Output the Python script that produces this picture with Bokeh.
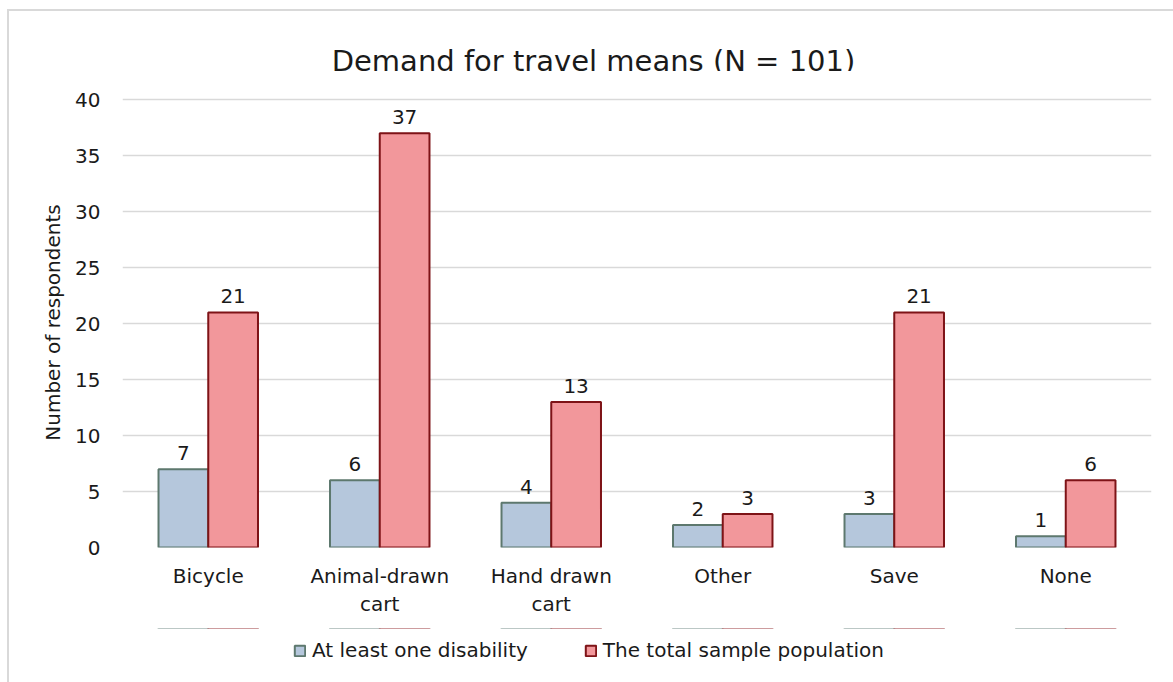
from bokeh.plotting import figure
from bokeh.layouts import column
from bokeh.models import (ColumnDataSource, Legend, LegendItem, FixedTicker, Label,
                          BoxAnnotation)
from bokeh.transform import dodge
from bokeh.core.properties import value
from bokeh.embed import file_html
from bokeh.resources import INLINE

# Survey results: demand for travel means
categories = ["Bicycle", "Animal-drawn\ncart", "Hand drawn\ncart", "Other", "Save", "None"]
disability = [7, 6, 4, 2, 3, 1]
total_sample = [21, 37, 13, 3, 21, 6]
series_names = ["At least one disability", "The total sample population"]
y_ticks = [0, 5, 10, 15, 20, 25, 30, 35, 40]
title_text = "Demand for travel means (N = 101)"

FONT = "DejaVu Sans"
TEXT = "#1a1a1a"
BAR_W = 0.29
FILL = ["#b5c7dc", "#f2979b"]
EDGE = ["#5d786e", "#7e1317"]

src = ColumnDataSource(dict(
    cat=categories,
    dis=disability,
    tot=total_sample,
    dis_lbl=[str(v) for v in disability],
    tot_lbl=[str(v) for v in total_sample],
))

# page geometry: the chart area has a light border on its top and left edges
OX, OY, BW = 7, 9, 2
W, H = 1173 - OX - BW, 682 - OY - BW
CX, CY = OX + BW, OY + BW          # page position of the canvas corner
FL, FT, FB = 122, 97, 547          # plot frame left / top / bottom on the page
TITLE_BOTTOM = 71                  # page y where the title strip ends
LEG_TOP = 628                      # page y where the legend strip starts
TITLE_H = TITLE_BOTTOM - CY
MAIN_H = LEG_TOP - TITLE_BOTTOM
STRIP_H = H - TITLE_H - MAIN_H


def strip(height, x_range, y_range):
    f = figure(width=W, height=height, x_range=x_range, y_range=y_range,
               output_backend="svg", toolbar_location=None,
               x_axis_location=None, y_axis_location=None, min_border=0)
    f.grid.grid_line_color = None
    f.outline_line_color = None
    f.background_fill_color = "white"
    f.border_fill_color = "white"
    return f


p = figure(
    x_range=categories, y_range=(0, 40.2),
    width=W, height=MAIN_H,
    output_backend="svg", toolbar_location=None,
    min_border_left=FL - CX, min_border_right=22,
    min_border_top=FT - TITLE_BOTTOM, min_border_bottom=LEG_TOP - FB,
)
p.x_range.range_padding = 0
p.outline_line_color = None
p.background_fill_color = "white"
p.border_fill_color = "white"


def draw_bars(fig):
    r1 = fig.vbar(x=dodge("cat", -BAR_W / 2, range=fig.x_range), top="dis", width=BAR_W,
                  source=src, fill_color=FILL[0], line_color=EDGE[0], line_width=2)
    r2 = fig.vbar(x=dodge("cat", BAR_W / 2, range=fig.x_range), top="tot", width=BAR_W,
                  source=src, fill_color=FILL[1], line_color=EDGE[1], line_width=2)
    return r1, r2


r_dis, r_tot = draw_bars(p)

# value labels above the bars
for off, top, col in ((-BAR_W / 2, "dis", "dis_lbl"), (BAR_W / 2, "tot", "tot_lbl")):
    p.text(x=dodge("cat", off, range=p.x_range), y=top, text=col, source=src,
           text_align="center", text_baseline="alphabetic", y_offset=-16,
           text_font=value(FONT), text_font_size="20px", text_color=TEXT)

# axes
p.yaxis.ticker = FixedTicker(ticks=y_ticks)
p.yaxis.axis_label = "Number of respondents"
p.yaxis.axis_label_text_font = FONT
p.yaxis.axis_label_text_font_style = "normal"
p.yaxis.axis_label_text_font_size = "20px"
p.yaxis.axis_label_text_color = TEXT
p.yaxis.axis_label_standoff = 7
for ax in (p.xaxis, p.yaxis):
    ax.axis_line_color = None
    ax.major_tick_line_color = None
    ax.minor_tick_line_color = None
    ax.major_tick_in = 0
    ax.major_tick_out = 0
    ax.major_label_text_font = FONT
    ax.major_label_text_font_size = "20px"
    ax.major_label_text_color = TEXT
p.yaxis.major_label_standoff = 22
p.xaxis.major_label_standoff = 16

p.xgrid.grid_line_color = None
p.ygrid.grid_line_color = "#d9d9d9"
p.ygrid.grid_line_width = 1.5

# title strip above the chart (its frame lines up with the chart's frame)
title_fig = strip(TITLE_H, p.x_range, (0, 1))
title_fig.add_layout(Label(x=593 - FL, y=TITLE_BOTTOM - 60, x_units="screen", y_units="screen",
                           text=title_text, text_align="center", text_baseline="alphabetic",
                           text_font=FONT, text_font_size="29px", text_color=TEXT))

# legend strip underneath the chart; the bars it carries only supply the legend
# swatches, so they sit out of view and under a white cover
leg_fig = strip(STRIP_H, p.x_range, (-10000, -9999))
k_dis, k_tot = draw_bars(leg_fig)
leg_fig.add_layout(BoxAnnotation(fill_color="white", fill_alpha=1, line_color=None))

legend = Legend(
    items=[LegendItem(label=series_names[0], renderers=[k_dis]),
           LegendItem(label=series_names[1], renderers=[k_tot])],
    orientation="horizontal", location=(293 - FL, STRIP_H - (651 - LEG_TOP) - 11),
    glyph_width=13, glyph_height=13, label_standoff=6, spacing=56,
    label_text_font=FONT, label_text_font_size="20px", label_text_color=TEXT,
    label_height=20, padding=0, margin=0,
    border_line_color=None, background_fill_alpha=0,
)
leg_fig.add_layout(legend, "center")

page = column(title_fig, p, leg_fig, spacing=0,
              styles={"margin-left": f"{OX}px", "margin-top": f"{OY}px",
                      "border-left": f"{BW}px solid #d9d9d9",
                      "border-top": f"{BW}px solid #d9d9d9"})

open("out.html", "w").write(file_html(page, INLINE))
